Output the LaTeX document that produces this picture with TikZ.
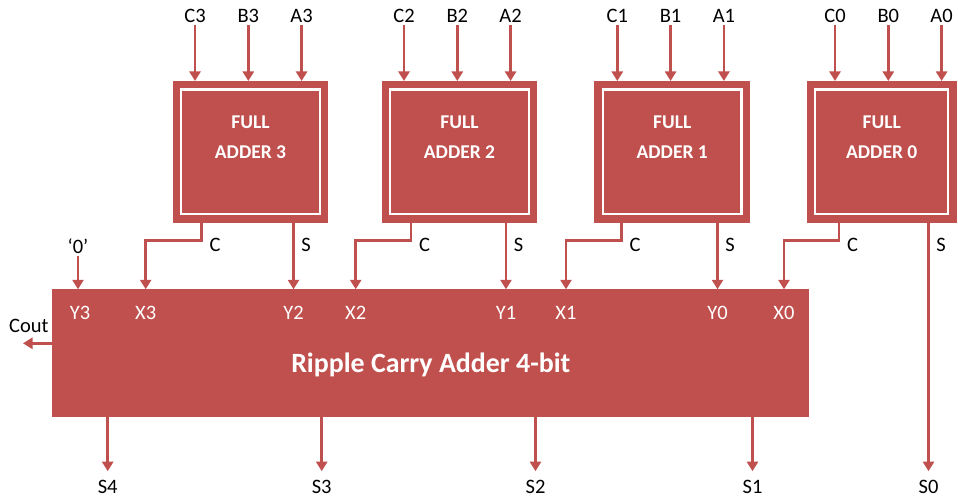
\documentclass[tikz,border=0pt]{standalone}
\usepackage{fontspec}
\setmainfont{Carlito}
\usetikzlibrary{arrows.meta}
\definecolor{adderred}{HTML}{C0504D}
\tikzset{
  arr/.style={adderred,line width=2.6pt,-{Triangle[length=9.5pt,width=11pt]}},
  fabox/.style={fill=adderred,minimum height=141.7pt,inner sep=0pt,outer sep=0pt,path picture={\draw[white,line width=2.4pt] ([shift={(8.5pt,-8.5pt)}]path picture bounding box.north west) rectangle ([shift={(-8.5pt,8.5pt)}]path picture bounding box.south east);}},
  fatext/.style={white,align=center,font=\fontsize{19.5}{30}\selectfont\bfseries,text depth=0pt},
  lbl/.style={anchor=base,font=\fontsize{20.5}{24}\selectfont,inner sep=2.5pt,text depth=0pt},
  port/.style={lbl,white}
}
\begin{document}
\begin{tikzpicture}[x=1pt,y=-1pt]
\useasboundingbox (0,0) rectangle (958,497);
\node[fill=adderred,minimum width=757pt,minimum height=128pt,inner sep=0pt,outer sep=0pt] (rca) at (430.5,353.3) {};
\node[white,anchor=base,font=\fontsize{27.9}{32}\selectfont\bfseries] (rcat) at (430.8,372.7) {Ripple Carry Adder 4-bit};
\foreach \i/\bx/\w/\cx/\co/\so/\xi in {3/250.5/155.6/195/201.7/293.5/145.7,2/459.5/155.6/404/411/506/355.7,1/672.2/155.6/617.3/621.7/717.5/566,0/881.7/150/835/839/928.5/784}{
  \node[fabox,minimum width=\w pt] (fa\i) at (\bx,151.85) {};\node[fatext] (fat\i) at (\bx,137.6) {FULL\\ADDER \i};
  \foreach \n/\d in {C/0,B/53.3,A/106.6}{\node[lbl] (\n\i) at (\cx+\d,22.3) {\n\i};\draw[arr] (\n\i.south) -- (\n\i.south |- fa\i.north);}
  \coordinate (co\i) at (fa\i.south -| \co,0);\coordinate (xin\i) at (rca.north -| \xi,0);\coordinate (sout\i) at (fa\i.south -| \so,0);
  \draw[arr] (co\i) -- ++(0,18) -| (xin\i);\node[port] (X\i) at (\xi,319) {X\i};
  \node[lbl] (cl\i) at (\co+13.5,251.5) {C};\node[lbl] (sl\i) at (\so+12.5,251.5) {S};
}
\node[lbl] (zero) at (78,253.3) {‘0’};\node[port] (Y3) at (80,319) {Y3};\draw[arr] (zero.south) -- (zero.south |- rca.north);
\foreach \j/\k/\x in {2/3/293.5,1/2/506,0/1/717.5}{\node[port] (Y\j) at (\x,319) {Y\j};\draw[arr] (sout\k) -- (sout\k |- rca.north);}
\foreach \j/\x in {4/107.7,3/321.7,2/535.5,1/752.5}{\node[lbl] (S\j) at (\x,493) {S\j};\draw[arr] (rca.south -| S\j) -- ([yshift=5.8pt]S\j.north);}
\node[lbl] (S0) at (928.5,493) {S0};\draw[arr] (sout0) -- ([yshift=5.8pt]S0.north);
\node[lbl] (carry) at (28.8,332.7) {Cout};\coordinate (carryend) at (23,343.3);\draw[arr] (carryend -| rca.west) -- (carryend);
\end{tikzpicture}
\end{document}
